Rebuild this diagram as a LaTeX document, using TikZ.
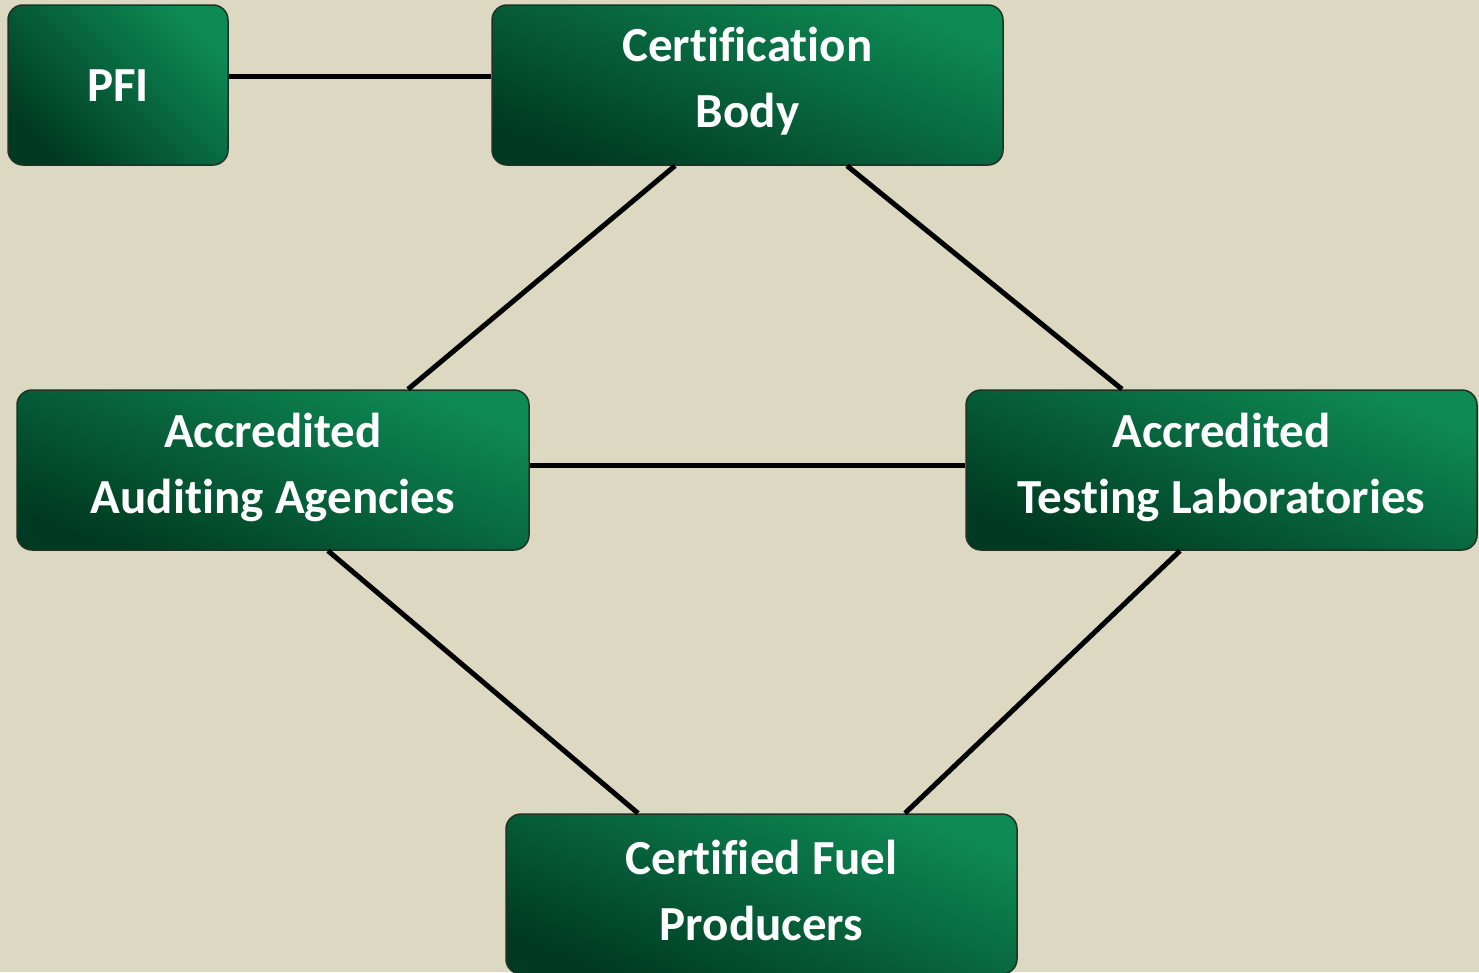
\documentclass[tikz,border=0pt]{standalone}
\usepackage{fontspec}
\setmainfont{Carlito}[Ligatures=NoCommon]
\usetikzlibrary{calc}
\definecolor{bg}{HTML}{DDD8C2}
\definecolor{gLight}{HTML}{0E8A55}
\definecolor{gDark}{HTML}{003A22}
\definecolor{gBorder}{HTML}{1C3326}
\begin{document}
\begin{tikzpicture}[x=1pt,y=-1pt,
  box/.style={draw=gBorder, line width=1.5pt, rounded corners=15pt,
    top color=gLight, bottom color=gDark, shading angle=-22,
    minimum height=160pt, inner sep=0pt},
  txt/.style={inner sep=0pt, align=center, text=white,
    font=\bfseries\fontsize{49}{66}\selectfont},
  link/.style={line width=5pt, black}]
\fill[bg] (0,0) rectangle (1479,972);
\useasboundingbox (0,0) rectangle (1479,972);
\node[box, minimum width=220pt, shading angle=-45] (pfi) at (118,85) {};
\node[box, minimum width=511pt] (cb) at (747.5,85) {};
\node[box, minimum width=512pt] (aaa) at (273,470) {};
\node[box, minimum width=511pt] (atl) at (1221.5,470) {};
\node[box, minimum width=511pt] (cfp) at (761.5,894) {};
\node[txt] (pfiT) at ($(pfi)+(0,1)$) {PFI};
\node[txt] (cbT) at ($(cb)+(0,-4)$) {Certification\\Body};
\node[txt] (aaaT) at ($(aaa)+(0,-3)$) {Accredited\\Auditing Agencies};
\node[txt] (atlT) at ($(atl)+(0,-3)$) {Accredited\\Testing Laboratories};
\node[txt] (cfpT) at ($(cfp)+(0,-4)$) {Certified Fuel\\Producers};
\draw[link] ($(pfi.east)+(0,-9)$) -- ($(cb.west)+(0,-9)$);
\draw[link] ($(aaa.east)+(0,-5)$) -- ($(atl.west)+(0,-5)$);
\draw[link] ($(cb.south)+(-72.5,0)$) -- ($(aaa.north)+(135,0)$);
\draw[link] ($(cb.south)+(99.5,0)$) -- ($(atl.north)+(-99.5,0)$);
\draw[link] ($(aaa.south)+(55,0)$) -- ($(cfp.north)+(-123.5,0)$);
\draw[link] ($(atl.south)+(-41.5,0)$) -- ($(cfp.north)+(143.5,0)$);
\end{tikzpicture}
\end{document}
